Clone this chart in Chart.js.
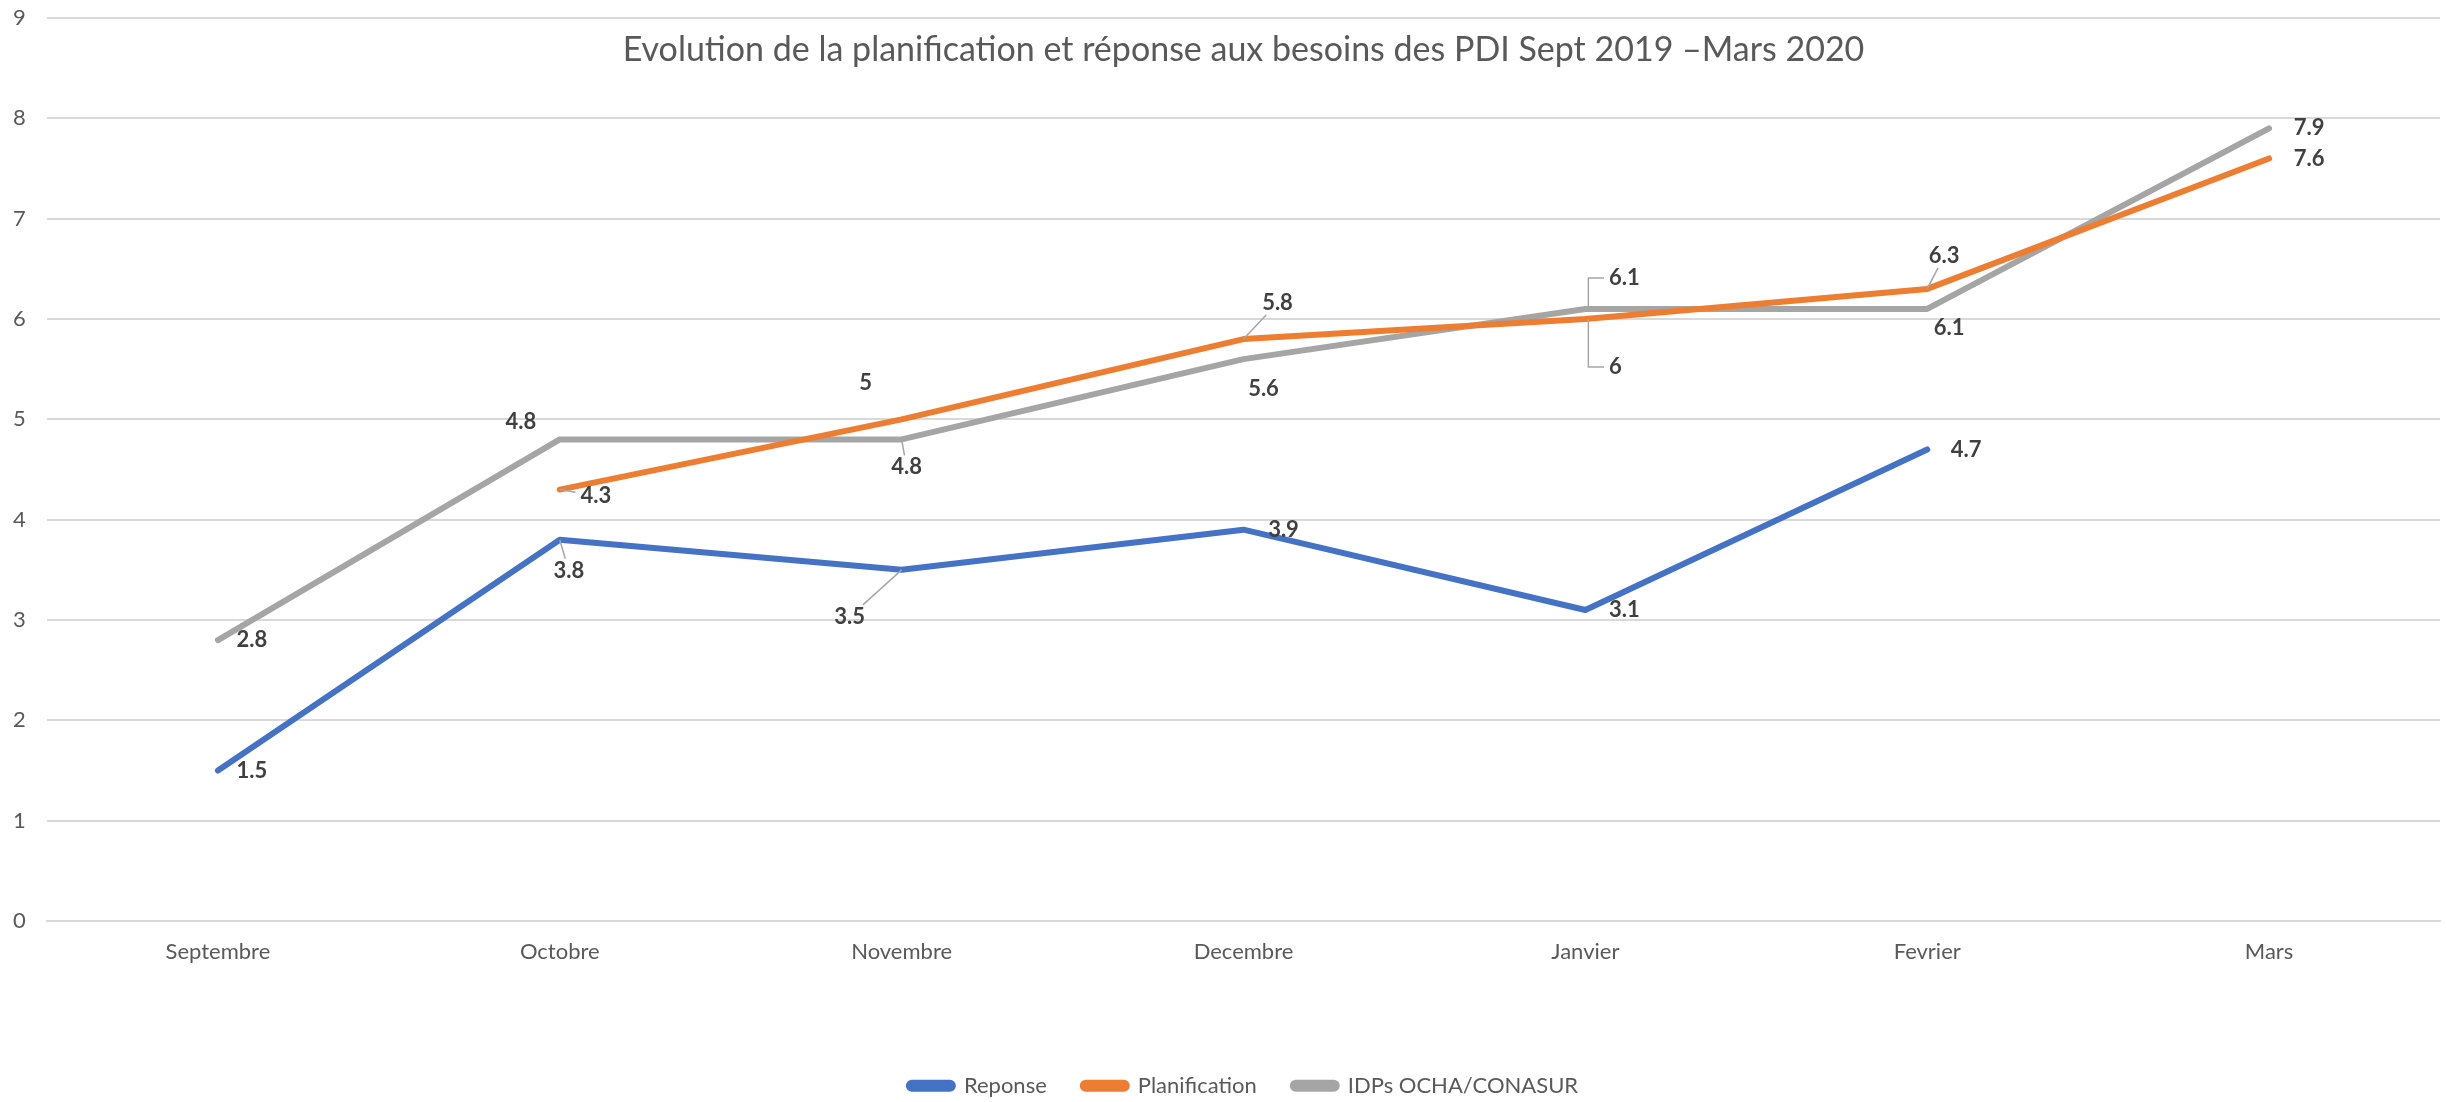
<!DOCTYPE html>
<html>
<head>
<meta charset="utf-8">
<script src="https://cdn.jsdelivr.net/npm/chart.js@4.4.0/dist/chart.umd.min.js"></script>
<style>
  html, body { margin: 0; padding: 0; background: #fff; }
  canvas { display: block; }
</style>
</head>
<body>
<canvas id="myChart" width="2446" height="1102"></canvas>
<script>
const months = ['Septembre', 'Octobre', 'Novembre', 'Decembre', 'Janvier', 'Fevrier', 'Mars'];
const reponse = [1.5, 3.8, 3.5, 3.9, 3.1, 4.7, null];
const planification = [null, 4.3, 5, 5.8, 6, 6.3, 7.6];
const idps = [2.8, 4.8, 4.8, 5.6, 6.1, 6.1, 7.9];
const seriesNames = ['Reponse', 'Planification', 'IDPs OCHA/CONASUR'];
const titleText = 'Evolution de la planification et réponse aux besoins des PDI Sept 2019 \u2013Mars 2020';

// label placement: [dx, dy, leader] in px, leader: 0 none, 1 straight, 2 elbow
const labelOffsets = [
  [[34, 0, 0], [9, 31, 1], [-52, 47, 1], [40, 0, 0], [39, 0, 0], [39, 0, 0], null],
  [null, [36, 6, 1], [-36, -36, 0], [34, -36, 1], [30, 48, 2], [17, -33, 1], [40, 0, 0]],
  [[34, 0, 0], [-39, -17, 0], [5, 28, 1], [20, 30, 0], [39, -31, 2], [22, 19, 0], [40, 0, 0]]
];

const FONT = 'Lato, "Open Sans", sans-serif';

const pointLabels = {
  id: 'pointLabels',
  afterDatasetsDraw(chart) {
    const ctx = chart.ctx;
    ctx.save();
    ctx.font = 'bold 22px ' + FONT;
    ctx.textAlign = 'center';
    ctx.textBaseline = 'middle';
    chart.data.datasets.forEach((ds, i) => {
      const meta = chart.getDatasetMeta(i);
      meta.data.forEach((pt, j) => {
        const v = ds.data[j];
        const off = labelOffsets[i][j];
        if (v === null || !off) return;
        const text = String(v);
        const lx = pt.x + off[0];
        const ly = pt.y + off[1];
        const hw = ctx.measureText(text).width / 2 + 5;
        const hh = 12;
        ctx.strokeStyle = '#a6a6a6';
        ctx.lineWidth = 1.5;
        if (off[2] === 1) {
          // clip segment at the label box
          const ddx = pt.x - lx, ddy = pt.y - ly;
          const t = Math.min(hw / Math.abs(ddx || 1e-6), hh / Math.abs(ddy || 1e-6));
          if (t < 1) {
            ctx.beginPath();
            ctx.moveTo(pt.x, pt.y);
            ctx.lineTo(lx + ddx * t, ly + ddy * t);
            ctx.stroke();
          }
        } else if (off[2] === 2) {
          ctx.beginPath();
          ctx.moveTo(pt.x + 3, pt.y);
          ctx.lineTo(pt.x + 3, ly);
          ctx.lineTo(lx - hw, ly);
          ctx.stroke();
        }
        ctx.fillStyle = '#404040';
        ctx.fillText(text, lx, ly);
      });
    });
    ctx.restore();
  }
};

const colors = ['#4472C4', '#ED7D31', '#A5A5A5'];
const values = [reponse, planification, idps];

const ctx = document.getElementById('myChart').getContext('2d');
const myChart = new Chart(ctx, {
  type: 'line',
  data: {
    labels: months,
    datasets: values.map((d, i) => ({
      label: seriesNames[i],
      data: d,
      borderColor: colors[i],
      backgroundColor: colors[i],
      borderWidth: 6,
      borderCapStyle: 'round',
      borderJoinStyle: 'round',
      tension: 0,
      pointRadius: 0,
      pointHoverRadius: 0,
      fill: false
    }))
  },
  options: {
    responsive: false,
    animation: false,
    layout: { padding: { top: 18, right: 6, left: 13, bottom: 0 } },
    plugins: {
      title: {
        display: true,
        text: titleText,
        fullSize: false,
        color: '#595959',
        font: { family: FONT, size: 34, weight: 'normal', lineHeight: 1.2 },
        padding: { top: 12, bottom: -53 }
      },
      legend: {
        position: 'bottom',
        fullSize: false,
        maxHeight: 63,
        labels: {
          color: '#595959',
          font: { family: FONT, size: 22 },
          boxWidth: 44,
          boxHeight: 6,
          useBorderRadius: true,
          borderRadius: 3,
          padding: 36
        }
      },
      tooltip: { enabled: false }
    },
    scales: {
      x: {
        offset: true,
        grid: { display: false },
        border: { display: true, color: '#D9D9D9', width: 2 },
        ticks: { color: '#595959', font: { family: FONT, size: 22 }, padding: 10 },
        afterFit(axis) { axis.height = 118; }
      },
      y: {
        min: 0,
        max: 9,
        ticks: { stepSize: 1, color: '#595959', font: { family: FONT, size: 22 }, padding: 0, crossAlign: 'far' },
        grid: { color: '#D9D9D9', lineWidth: 2, drawTicks: false },
        border: { display: false },
        afterFit(axis) { axis.width = 34; }
      }
    }
  },
  plugins: [pointLabels]
});
</script>
</body>
</html>
